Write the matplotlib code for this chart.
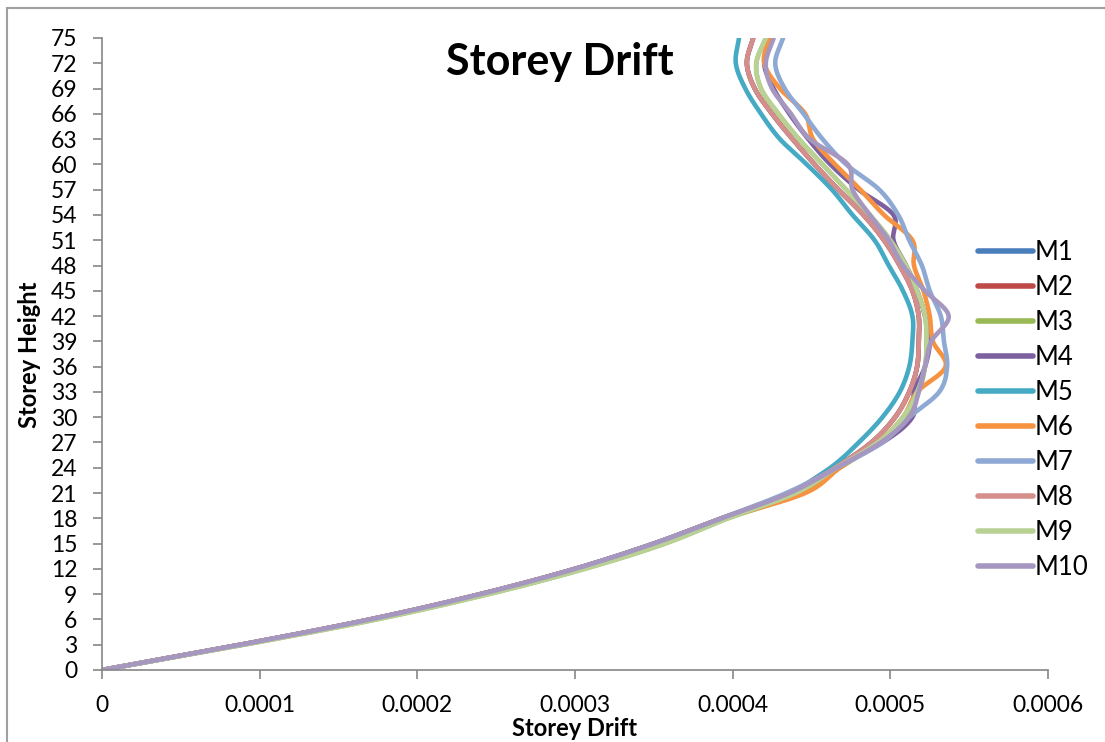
import numpy as np
import matplotlib
matplotlib.use("Agg")
import matplotlib.pyplot as plt
from matplotlib.patches import Rectangle

# storey levels, drift values in units of 1e-4
storeys = [0, 3, 6, 9, 12, 15, 18, 21, 24, 27, 30, 33, 36, 39, 42, 45, 48, 51, 54, 57, 60, 63, 66, 69, 72, 75]
scale = 1e-4

m1 = [0, 0.88, 1.70, 2.40, 3.00, 3.50, 3.93, 4.38, 4.65, 4.88, 5.03, 5.12, 5.17, 5.18, 5.18, 5.14, 5.06, 4.96, 4.83, 4.67, 4.52, 4.38, 4.25, 4.14, 4.09, 4.13]
m2 = [0, 0.88, 1.70, 2.40, 3.00, 3.50, 3.93, 4.38, 4.65, 4.88, 5.03, 5.12, 5.17, 5.18, 5.18, 5.14, 5.06, 4.96, 4.83, 4.67, 4.52, 4.38, 4.25, 4.14, 4.09, 4.13]
m3 = [0, 0.90, 1.74, 2.45, 3.06, 3.57, 3.97, 4.44, 4.68, 4.93, 5.10, 5.18, 5.22, 5.23, 5.22, 5.17, 5.10, 5.00, 4.87, 4.72, 4.57, 4.42, 4.29, 4.18, 4.15, 4.21]
m4 = [0, 0.88, 1.70, 2.40, 3.00, 3.50, 3.93, 4.36, 4.63, 4.95, 5.14, 5.15, 5.22, 5.25, 5.22, 5.17, 5.10, 5.02, 5.02, 4.80, 4.62, 4.48, 4.36, 4.26, 4.20, 4.25]
m5 = [0, 0.88, 1.70, 2.40, 3.00, 3.50, 3.93, 4.36, 4.62, 4.80, 4.95, 5.06, 5.12, 5.14, 5.14, 5.08, 4.99, 4.90, 4.76, 4.63, 4.47, 4.30, 4.18, 4.08, 4.02, 4.04]
m6 = [0, 0.88, 1.70, 2.40, 3.00, 3.52, 3.95, 4.46, 4.68, 4.92, 5.08, 5.17, 5.35, 5.27, 5.25, 5.21, 5.15, 5.14, 4.96, 4.81, 4.65, 4.51, 4.46, 4.30, 4.20, 4.23]
m7 = [0, 0.88, 1.70, 2.40, 3.00, 3.50, 3.93, 4.34, 4.66, 4.95, 5.12, 5.31, 5.36, 5.34, 5.32, 5.25, 5.20, 5.12, 5.05, 4.93, 4.72, 4.57, 4.45, 4.33, 4.27, 4.32]
m8 = [0, 0.88, 1.70, 2.40, 3.00, 3.50, 3.93, 4.38, 4.65, 4.88, 5.03, 5.12, 5.17, 5.18, 5.18, 5.14, 5.06, 4.96, 4.83, 4.67, 4.52, 4.38, 4.25, 4.14, 4.09, 4.13]
m9 = [0, 0.90, 1.74, 2.45, 3.06, 3.57, 3.97, 4.40, 4.66, 4.92, 5.08, 5.17, 5.22, 5.23, 5.22, 5.17, 5.10, 5.00, 4.87, 4.72, 4.57, 4.42, 4.29, 4.18, 4.15, 4.21]
m10 = [0, 0.88, 1.70, 2.40, 3.00, 3.50, 3.93, 4.36, 4.66, 4.94, 5.12, 5.18, 5.22, 5.26, 5.37, 5.22, 5.08, 4.99, 4.87, 4.76, 4.73, 4.49, 4.37, 4.25, 4.21, 4.26]

names = ["M1", "M2", "M3", "M4", "M5", "M6", "M7", "M8", "M9", "M10"]
series = [m1, m2, m3, m4, m5, m6, m7, m8, m9, m10]
colors = ["#4A7EBB", "#BE4B48", "#98B954", "#7D60A0", "#46AAC5",
          "#F69240", "#8EA9D4", "#D48F8D", "#B9D195", "#A697C0"]

xticks = [0, 0.0001, 0.0002, 0.0003, 0.0004, 0.0005, 0.0006]
xticklabels = ["0", "0.0001", "0.0002", "0.0003", "0.0004", "0.0005", "0.0006"]


def smooth(x, y, n=20):
    # catmull-rom through the points, like excel's smoothed line
    x = np.asarray(x, float)
    y = np.asarray(y, float)
    px = np.concatenate([[2 * x[0] - x[1]], x, [2 * x[-1] - x[-2]]])
    py = np.concatenate([[2 * y[0] - y[1]], y, [2 * y[-1] - y[-2]]])
    t = np.linspace(0, 1, n, endpoint=False)
    ox, oy = [], []
    for i in range(1, len(px) - 2):
        for p, o in ((px, ox), (py, oy)):
            p0, p1, p2, p3 = p[i - 1], p[i], p[i + 1], p[i + 2]
            o.extend(0.5 * (2 * p1 + (-p0 + p2) * t + (2 * p0 - 5 * p1 + 4 * p2 - p3) * t ** 2
                            + (-p0 + 3 * p1 - 3 * p2 + p3) * t ** 3))
    ox.append(x[-1])
    oy.append(y[-1])
    return np.array(ox), np.array(oy)


plt.rcParams['font.family'] = ['Lato', 'DejaVu Sans']

fig = plt.figure(figsize=(11.05, 7.42), dpi=100)
ax = fig.add_axes([102 / 1105, 1 - 670 / 742, 946 / 1105, 632 / 742])

for name, vals, c in zip(names, series, colors):
    sx, sy = smooth(np.array(vals) * scale, storeys)
    ax.plot(sx, sy, color=c, linewidth=3.3, label=name, solid_capstyle='round')

ax.set_xlim(0, 0.0006)
ax.set_ylim(0, 75)
ax.set_xticks(xticks)
ax.set_xticklabels(xticklabels)
ax.set_yticks(range(0, 76, 3))
ax.tick_params(axis='both', direction='out', length=6.3, width=1.2, color='#868686',
               labelsize=16.5, pad=11.5)
for s in ['top', 'right']:
    ax.spines[s].set_visible(False)
for s in ['left', 'bottom']:
    ax.spines[s].set_color('#868686')
    ax.spines[s].set_linewidth(1.2)

ax.set_xlabel("Storey Drift", fontsize=17, fontweight='bold', va='center')
ax.xaxis.set_label_coords(0.5, (670 - 729) / 632)
ax.set_ylabel("Storey Height", fontsize=17, fontweight='bold', va='center')
ax.yaxis.set_label_coords((30 - 102) / 946, (670 - 355) / 632)
fig.text(560 / 1105, 1 - 62 / 742, "Storey Drift", fontsize=31, fontweight='bold',
         ha='center', va='center')

leg = ax.legend(loc='upper left', bbox_to_anchor=(978 / 1105, 1 - 240 / 742),
                bbox_transform=fig.transFigure, frameon=False, fontsize=18.5,
                borderpad=0, borderaxespad=0,
                handlelength=2.14, handletextpad=0.05, labelspacing=0.39)
for line in leg.get_lines():
    line.set_linewidth(4)

# outer chart border (only top and left visible in the crop)
fig.patches.append(Rectangle((7 / 1105, -0.1), 1.2, 1.1 - 8 / 742, transform=fig.transFigure,
                             fill=False, edgecolor='#A0A0A0', linewidth=1.5))

plt.savefig("out.png", dpi=100)
